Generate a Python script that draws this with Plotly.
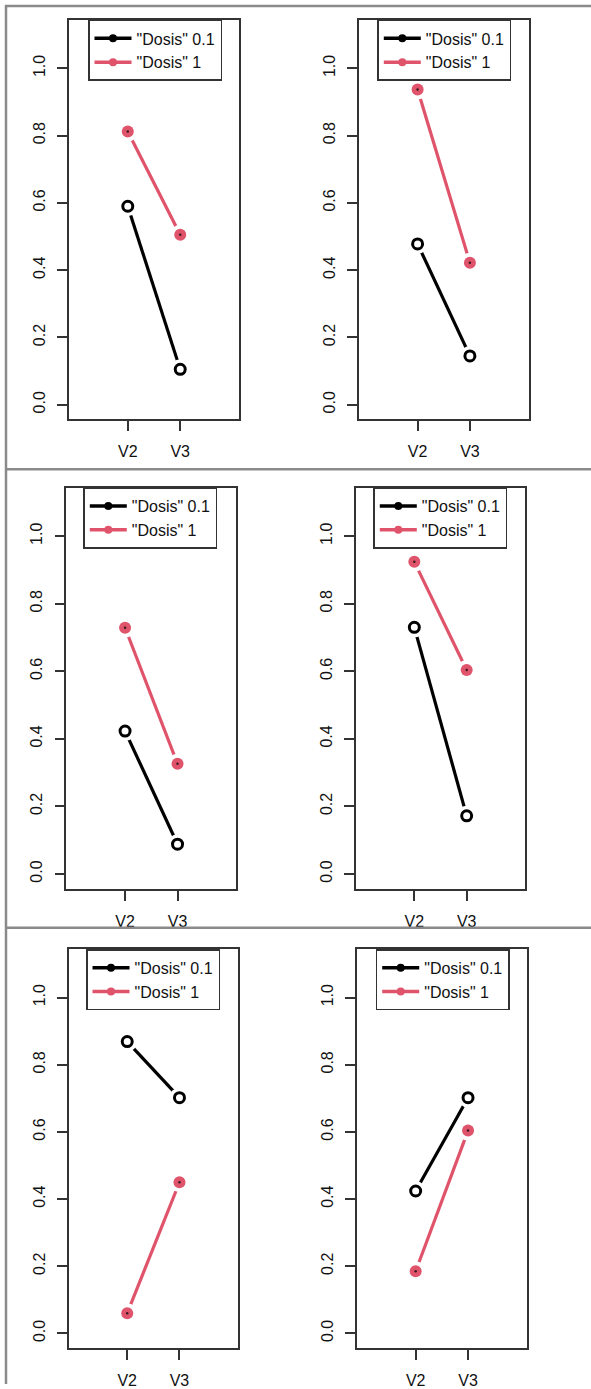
import plotly.graph_objects as go

W, H = 591, 1389

# Categories and series
visits = ["V2", "V3"]
visit_pos = [1, 2]
series_names = ['"Dosis" 0.1', '"Dosis" 1']
series_colors = ["#000000", "#DF536B"]

# Response per panel (six panels, two visits each)
dosis_01 = [
    [0.590, 0.105],
    [0.478, 0.145],
    [0.423, 0.088],
    [0.730, 0.172],
    [0.869, 0.702],
    [0.424, 0.702],
]
dosis_1 = [
    [0.812, 0.505],
    [0.937, 0.422],
    [0.729, 0.326],
    [0.924, 0.604],
    [0.060, 0.450],
    [0.185, 0.604],
]

y_ticks = [0.0, 0.2, 0.4, 0.6, 0.8, 1.0]

# Plot boxes in pixels: (left, right, top, bottom)
boxes = [
    (69.0, 239.0, 20.0, 421.0),
    (359.0, 528.5, 20.0, 421.0),
    (66.3, 236.3, 489.3, 892.0),
    (355.7, 525.3, 489.3, 892.0),
    (68.7, 238.0, 952.7, 1353.0),
    (357.0, 526.7, 952.7, 1353.0),
]
# Legend top-left corners in pixels
legend_corners = [
    (88.0, 20.0),
    (377.3, 20.0),
    (83.3, 489.3),
    (373.3, 489.3),
    (86.0, 952.7),
    (375.7, 952.7),
]

FONT = "Liberation Sans, Arial, sans-serif"
BOX = "#333333"


def px_x(v):
    return v / W


def px_y(v):
    return 1 - v / H


fig = go.Figure()

for i in range(6):
    k = i + 1
    xa = "x" if k == 1 else f"x{k}"
    ya = "y" if k == 1 else f"y{k}"
    lg = "legend" if k == 1 else f"legend{k}"
    series = [dosis_01[i], dosis_1[i]]

    # connecting lines
    for vals, col in zip(series, series_colors):
        fig.add_trace(go.Scatter(
            x=visit_pos, y=vals, mode="lines", xaxis=xa, yaxis=ya,
            line=dict(color=col, width=3.2), showlegend=False, hoverinfo="skip"))
    # white halos around each point
    for vals in series:
        fig.add_trace(go.Scatter(
            x=visit_pos, y=vals, mode="markers", xaxis=xa, yaxis=ya,
            marker=dict(color="white", size=20, line=dict(width=0)),
            showlegend=False, hoverinfo="skip"))
    # points
    fig.add_trace(go.Scatter(
        x=visit_pos, y=series[0], mode="markers", xaxis=xa, yaxis=ya,
        marker=dict(symbol="circle-open", color=series_colors[0], size=10,
                    line=dict(width=3, color=series_colors[0])),
        showlegend=False, name=series_names[0]))
    fig.add_trace(go.Scatter(
        x=visit_pos, y=series[1], mode="markers", xaxis=xa, yaxis=ya,
        marker=dict(symbol="circle", color=series_colors[1], size=12,
                    line=dict(width=0)),
        showlegend=False, name=series_names[1]))
    fig.add_trace(go.Scatter(
        x=visit_pos, y=series[1], mode="markers", xaxis=xa, yaxis=ya,
        marker=dict(symbol="circle", color="#3a1a20", size=2.5, line=dict(width=0)),
        showlegend=False, hoverinfo="skip"))
    # legend entries
    for name, col in zip(series_names, series_colors):
        fig.add_trace(go.Scatter(
            x=[None], y=[None], mode="lines+markers", xaxis=xa, yaxis=ya,
            name=name, legend=lg,
            line=dict(color=col, width=3.5),
            marker=dict(symbol="circle", color=col, size=8)))

    x0, x1, y0, y1 = boxes[i]
    axis_common = dict(
        showline=True, mirror=True, linecolor=BOX, linewidth=1.5,
        ticks="outside", ticklen=10, tickwidth=1.5, tickcolor=BOX,
        showgrid=False, zeroline=False, fixedrange=True,
        tickfont=dict(family=FONT, size=16, color="#111111"),
    )
    fig.layout[f"xaxis{'' if k == 1 else k}"] = dict(
        axis_common,
        domain=[px_x(x0), px_x(x1)], anchor=ya, range=[-0.12, 3.12],
        tickmode="array", tickvals=visit_pos, ticktext=visits,
        ticklabelstandoff=7,
    )
    fig.layout[f"yaxis{'' if k == 1 else k}"] = dict(
        axis_common,
        domain=[px_y(y1), px_y(y0)], anchor=xa, range=[-0.044, 1.144],
        tickmode="array", tickvals=y_ticks,
        ticktext=[f"{t:.1f}" for t in y_ticks], tickangle=-90,
        ticklabelstandoff=6,
    )
    lx, ly = legend_corners[i]
    fig.layout[lg] = dict(
        x=px_x(lx), y=px_y(ly), xanchor="left", yanchor="top",
        xref="paper", yref="paper",
        bgcolor="white", bordercolor=BOX, borderwidth=1.5,
        font=dict(family=FONT, size=16, color="#111111"),
        tracegroupgap=0, itemwidth=37,
        itemclick=False, itemdoubleclick=False,
    )

# grey frame lines around and between the rows
GREY = "#8a8a8a"
frame = [
    (5, 6, W, 6),
    (6, 5, 6, H),
    (6, 471, W, 471),
    (6, 931, W, 931),
]
for xa0, ya0, xa1, ya1 in frame:
    fig.add_shape(type="line", xref="paper", yref="paper",
                  x0=px_x(xa0), y0=px_y(ya0), x1=px_x(xa1), y1=px_y(ya1),
                  line=dict(color=GREY, width=2.5))

fig.update_layout(
    width=W, height=H,
    margin=dict(l=0, r=0, t=0, b=0),
    paper_bgcolor="white", plot_bgcolor="white",
    font=dict(family=FONT, color="#111111"),
)

fig.write_html("out.html")
